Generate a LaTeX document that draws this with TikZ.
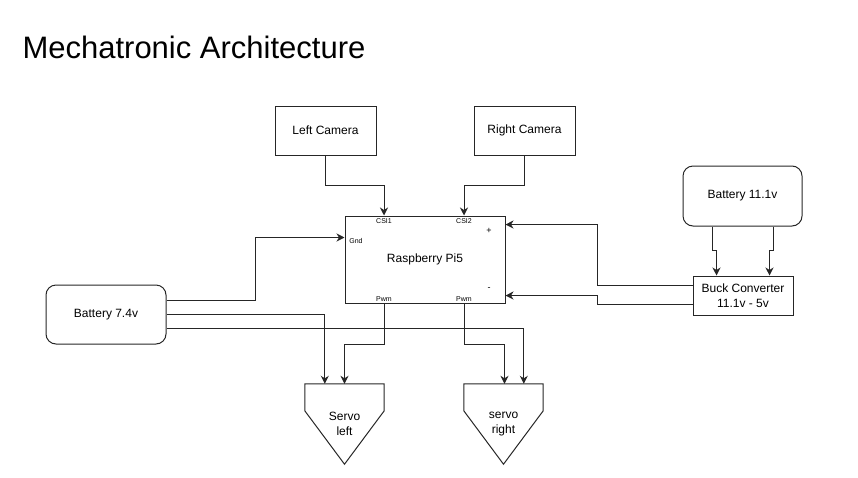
\documentclass[tikz,border=0pt]{standalone}
\usepackage{fontspec}
\setmainfont{Liberation Sans}
\usetikzlibrary{arrows.meta, calc}
\tikzstyle{rec} = [rectangle, text centered, align=center, draw=black!85, line width=1pt, font=\fontsize{12}{15}\selectfont]
\tikzstyle{bat} = [rec, rounded corners=10pt]
\tikzstyle{servo} = [text centered, align=center, minimum width=79pt, minimum height=80pt, font=\fontsize{12}{15}\selectfont]
\tikzstyle{pin} = [inner sep=0pt, font=\fontsize{7}{8}\selectfont]
\tikzstyle{arrow} = [line width=1pt, draw=black!85, -{Stealth[length=8pt,width=8pt,inset=2.5pt]}]
\tikzstyle{line} = [line width=1pt, draw=black!85]

\begin{document}
\begin{tikzpicture}[x=1pt, y=-1pt]
		\useasboundingbox (0,0) rectangle (858,477);
		\node (titel) [anchor=base west, font=\fontsize{31}{36}\selectfont] at (19,58) {Mechatronic Architecture};
		\node (leftcam) [rec, minimum width=101pt, minimum height=49pt] at (325.5,130.5) {Left Camera};
		\node (rightcam) [rec, minimum width=101pt, minimum height=49pt] at (524.5,130.5) {Right Camera};
		\node (pi) [rec, minimum width=160pt, minimum height=87pt] at (425,259.5) {Raspberry Pi5};
		\node (bat11) [bat, minimum width=119pt, minimum height=60pt] at (742.5,196) {Battery 11.1v};
		\node (buck) [rec, minimum width=100pt, minimum height=39pt] at (743,295.5) {Buck Converter\\11.1v - 5v};
		\node (bat7) [bat, minimum width=120pt, minimum height=59pt] at (106,314.5) {Battery 7.4v};
		\node (servol) [servo] at (344.5,424) {Servo\\left};
		\node (servor) [servo] at (503.5,424) {servo\\right};
		\node (csi1) [pin] at (384,221) {CSI1};
		\node (csi2) [pin] at (464,221) {CSI2};
		\node (gnd) [pin] at (356,241) {Gnd};
		\node (plus) [pin, font=\fontsize{9}{10}\selectfont] at (489,231) {+};
		\node (minus) [pin, font=\fontsize{9}{10}\selectfont] at (489,289) {-};
		\node (pwm1) [pin] at (384,299) {Pwm};
		\node (pwm2) [pin] at (464,299) {Pwm};
		% servo outlines
		\draw [line] (servol.north west) -- (servol.north east) -- ($(servol.north east)+(0,27)$) -- (servol.south) -- ($(servol.north west)+(0,27)$) -- cycle;
		\draw [line] (servor.north west) -- (servor.north east) -- ($(servor.north east)+(0,27)$) -- (servor.south) -- ($(servor.north west)+(0,27)$) -- cycle;
		% cameras
		\draw [arrow] (leftcam.south) -- ++(0,30) -| (csi1 |- pi.north);
		\draw [arrow] (rightcam.south) -- ++(0,30) -| (csi2 |- pi.north);
		% power
		\draw [arrow] ($(bat11.south west)+(30,0)$) |- ++(4,24) -- ($(buck.north west)+(24,0)$);
		\draw [arrow] ($(bat11.south east)+(-29,0)$) |- ++(-4,24) -- ($(buck.north east)+(-24,0)$);
		\draw [arrow] ($(buck.west)+(0,-10)$) -- ++(-95,0) |- ($(pi.north east)+(0,9)$);
		\draw [arrow] ($(buck.west)+(0,9)$) -- ++(-95,0) |- ($(pi.south east)+(0,-8)$);
		\draw [arrow] ($(bat7.east)+(0,-14)$) -- ++(89,0) |- ($(pi.north west)+(0,22)$);
		\draw [arrow] (bat7.east) -| ($(servol.north west)+(20,0)$);
		\draw [arrow] ($(bat7.east)+(0,14)$) -| ($(servor.north west)+(60,0)$);
		% pwm
		\draw [arrow] (pwm1 |- pi.south) -- ++(0,41) -| (servol.north);
		\draw [arrow] (pwm2 |- pi.south) -- ++(0,41) -| ($(servor.north)+(1,0)$);
	\end{tikzpicture}
\end{document}
